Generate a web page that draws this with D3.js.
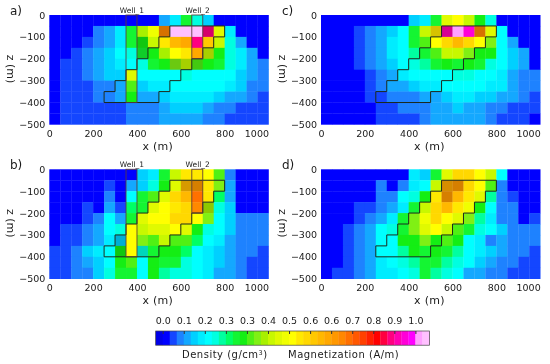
<!DOCTYPE html>
<html>
<head>
<meta charset="utf-8">
<script src="https://cdn.jsdelivr.net/npm/d3@7"></script>
<style>
  html, body { margin: 0; padding: 0; background: #fff; }
  svg { filter: blur(0.4px); }
  text { font-family: "DejaVu Sans", sans-serif; fill: #1a1a1a; }
</style>
</head>
<body>
<svg id="chart" width="550" height="364"></svg>
<script>
// one row per 50 m of depth, one column per 50 m of x
const densityA = [
  [0,0,0,0,0,0,0,0,0,0,.1,.15,.3,.2,.13,0,0,0,0,0],
  [0,0,0,0,.06,.1,.14,.3,.4,.48,.72,1.03,1.03,1.03,.9,.47,.14,0,0,0],
  [0,0,0,.05,.07,.1,.15,.3,.33,.43,.55,.63,.66,.9,.6,.42,.2,.11,0,0],
  [0,0,.04,.06,.09,.12,.18,.2,.3,.33,.4,.5,.55,.65,.42,.33,.2,.16,.1,0],
  [0,.03,.05,.07,.09,.12,.16,.18,.2,.3,.32,.38,.42,.36,.33,.28,.2,.16,.1,.06],
  [0,.03,.05,.07,.09,.12,.13,.45,.18,.18,.19,.19,.21,.19,.18,.18,.17,.13,.09,.07],
  [0,.03,.04,.05,.07,.08,.09,.34,.13,.14,.16,.17,.18,.18,.17,.17,.14,.12,.08,.06],
  [0,.03,.04,.04,.06,.07,.09,.33,.1,.1,.12,.14,.14,.15,.14,.12,.11,.09,.07,.05],
  [0,.03,.03,.03,.04,.05,.05,.06,.07,.08,.1,.12,.12,.12,.1,.08,.06,.05,.04,.04],
  [0,.03,.03,.03,.04,.05,.05,.06,.06,.07,.1,.1,.1,.1,.08,.06,.05,.04,.03,.03]
];
const densityB = [
  [0,0,0,0,0,0,0,0,.12,.15,.3,.42,.55,.55,.5,.36,.08,0,0,0],
  [0,0,0,0,0,.05,0,.09,.13,.22,.32,.47,.62,.68,.55,.38,.1,0,0,0],
  [0,0,0,0,0,.06,0,.18,.3,.36,.45,.57,.62,.74,.53,.27,.1,0,0,0],
  [0,0,0,.04,0,.09,.05,.27,.3,.45,.5,.55,.58,.72,.4,.2,.12,0,0,0],
  [0,0,0,.05,.06,.17,.1,.28,.45,.5,.52,.58,.56,.52,.38,.18,.13,.07,.06,.06],
  [0,.04,.05,.06,.1,.17,.2,.5,.42,.45,.47,.5,.47,.31,.2,.18,.13,.08,.07,.06],
  [0,.04,.05,.06,.1,.16,.13,.5,.38,.35,.42,.35,.36,.25,.17,.16,.11,.08,.07,.06],
  [.04,.05,.08,.12,.15,.18,.33,.5,.22,.3,.33,.31,.27,.17,.15,.13,.1,.08,.06,.05],
  [.04,.05,.07,.09,.12,.18,.32,.34,.18,.31,.3,.28,.2,.17,.14,.12,.09,.07,.05,.04],
  [.03,.05,.06,.08,.13,.2,.3,.3,.17,.31,.23,.22,.2,.17,.14,.11,.09,.06,.05,.04]
];
const densityC = [
  [0,0,0,0,0,0,0,0,.12,.14,.3,.47,.5,.42,.33,.2,0,0,0,0],
  [0,0,0,.05,.07,.09,.13,.17,.3,.42,.55,.93,1.02,.95,.72,.47,.17,0,0,0],
  [0,0,0,.05,.07,.1,.14,.17,.3,.36,.5,.58,.62,.58,.5,.38,.17,.09,0,0],
  [0,0,0,.05,.07,.1,.14,.18,.23,.3,.36,.42,.44,.38,.33,.33,.17,.13,.09,0],
  [0,0,0,.04,.06,.09,.13,.17,.2,.24,.29,.31,.3,.31,.3,.22,.17,.13,.09,0],
  [0,0,0,0,.05,.07,.11,.15,.17,.17,.18,.19,.2,.2,.19,.18,.15,.11,.08,.06],
  [0,0,0,0,.05,.07,.09,.1,.13,.14,.15,.17,.18,.18,.18,.16,.14,.1,.08,.06],
  [0,0,0,0,.04,.05,.06,.07,.08,.09,.11,.13,.14,.14,.13,.12,.11,.09,.07,.05],
  [0,0,0,0,0,.03,.04,.06,.07,.08,.11,.11,.12,.11,.1,.08,.07,.05,.04,.04],
  [0,0,0,0,0,.03,.03,.04,.05,.06,.09,.09,.09,.09,.09,.07,.05,.04,.03,0]
];
const densityD = [
  [0,0,0,0,0,0,0,0,.15,.12,.3,.47,.57,.58,.5,.42,.18,0,0,0],
  [0,0,0,0,0,.06,0,.06,.15,.17,.42,.65,.68,.58,.5,.35,.08,0,0,0],
  [0,0,0,0,0,.07,.07,.17,.2,.33,.55,.68,.62,.55,.45,.23,.08,.05,0,0],
  [0,0,0,.04,.05,.07,.09,.15,.3,.42,.57,.62,.55,.48,.32,.18,.08,.06,0,0],
  [0,0,0,.04,.06,.09,.16,.28,.37,.48,.58,.5,.45,.37,.24,.14,.08,.07,0,.05],
  [0,0,.05,.07,.09,.17,.2,.3,.38,.46,.5,.42,.34,.3,.2,.18,.13,.08,.06,.06],
  [0,0,.05,.06,.1,.18,.19,.32,.32,.37,.33,.36,.32,.18,.15,.08,.09,.08,.06,.06],
  [0,0,.05,.06,.09,.18,.18,.24,.31,.3,.33,.3,.24,.18,.15,.13,.09,.08,.08,.05],
  [0,0,.05,.06,.09,.15,.17,.2,.24,.28,.3,.24,.2,.18,.13,.1,.08,.06,.05,.05],
  [0,.04,.05,.07,.1,.14,.16,.18,.22,.28,.23,.2,.17,.1,.09,.08,.06,.05,.05,.04]
];

// cells that look muddier than the colour bar, [row, col]
const mutedA = [[1,10],[1,14],[2,8],[3,8],[3,14],[4,11],[4,12],[4,13]];
const mutedB = [[1,12],[1,13],[3,14],[6,6],[7,6],[7,8]];
const mutedC = [[1,10],[1,11],[1,14]];
const mutedD = [[1,11],[1,12],[2,11]];

// outline of the source body, in metres
const bodyX = [550,800,800,750,750,700,700,650,650,600,600,550,550,500,500,250,250,300,300,350,350,400,400,450,450,500,500,550,550];
const bodyZ = [-50,-50,-100,-100,-150,-150,-200,-200,-250,-250,-300,-300,-350,-350,-400,-400,-350,-350,-300,-300,-250,-250,-200,-200,-150,-150,-100,-100,-50];

const wellNames = ["Well_1", "Well_2"];
const wellLeft = [350, 650];
const wellRight = [400, 700];
const wellBottom = [-400, -200];

const xTicks = [0, 200, 400, 600, 800, 1000];
const zTicks = [0, -100, -200, -300, -400, -500];

const barTicks = [0, 1/12, 2/12, 3/12, 4/12, 5/12, 6/12, 7/12, 8/12, 9/12, 10/12, 11/12, 1];
const barLabels = ["0.0","0.1","0.2","0.3","0.3","0.4","0.5","0.6","0.6","0.7","0.8","0.9","1.0"];
const swatches = ["#0000e8","#0000ff","#1446ff","#1e82ff","#14a8ff","#00d0ff","#00ecff","#00ffff",
  "#00ffe0","#00ffa0","#00ff64","#14f532","#14ee14","#50f014","#80f014","#a8f000",
  "#c8f800","#e0fa00","#f0ff00","#ffff00","#ffe800","#ffd800","#ffc800","#ffb800",
  "#ffa800","#ff9800","#ff8800","#ff7000","#ff5800","#ff4000","#ff2000","#ff0000",
  "#ff0040","#ff0080","#ff00b0","#ff00d8","#ff00ff","#ffa0ff","#ffc0ff"];

const color = d3.scaleQuantize().domain([-1/36, 38/36]).range(swatches);

const svg = d3.select("#chart");

const panels = [
  {name: "a)", data: densityA, muted: mutedA, left: 49.3, top: 15, labelX: 10, yLabelX: 7, wells: true},
  {name: "c)", data: densityC, muted: mutedC, left: 321, top: 15, labelX: 282, yLabelX: 279, wells: false},
  {name: "b)", data: densityB, muted: mutedB, left: 49.3, top: 169.3, labelX: 10, yLabelX: 7, wells: true},
  {name: "d)", data: densityD, muted: mutedD, left: 321, top: 169.3, labelX: 282, yLabelX: 279, wells: false}
];

panels.forEach(function(p) {
  const x = d3.scaleLinear().domain([0, 1000]).range([p.left, p.left + 219.2]);
  const z = d3.scaleLinear().domain([0, -500]).range([p.top, p.top + 109.4]);
  const g = svg.append("g");

  const cells = [];
  p.data.forEach((row, j) => row.forEach((v, i) => cells.push({col: i, row: j, v: v})));

  g.selectAll("rect.cell")
    .data(cells)
    .enter().append("rect")
    .attr("class", "cell")
    .attr("x", d => x(d.col * 50))
    .attr("y", d => z(-d.row * 50))
    .attr("width", x(50) - x(0) + 0.3)
    .attr("height", z(-50) - z(0) + 0.3)
    .attr("fill", d => color(d.v));

  g.selectAll("rect.muted")
    .data(p.muted)
    .enter().append("rect")
    .attr("class", "muted")
    .attr("x", d => x(d[1] * 50))
    .attr("y", d => z(-d[0] * 50))
    .attr("width", x(50) - x(0))
    .attr("height", z(-50) - z(0))
    .attr("fill", "#000")
    .attr("fill-opacity", 0.16);

  const line = d3.line().x(d => x(d[0])).y(d => z(d[1]));
  g.append("path")
    .attr("d", line(bodyX.map((v, i) => [v, bodyZ[i]])))
    .attr("fill", "none")
    .attr("stroke", "#1c2a1c")
    .attr("stroke-width", 1);

  if (p.wells) {
    wellNames.forEach(function(name, i) {
      g.append("rect")
        .attr("x", x(wellLeft[i]))
        .attr("y", z(0))
        .attr("width", x(wellRight[i]) - x(wellLeft[i]))
        .attr("height", z(wellBottom[i]) - z(0))
        .attr("fill", "none")
        .attr("stroke", "#5a3a3a")
        .attr("stroke-opacity", 0.85)
        .attr("stroke-width", 1);
      g.append("text")
        .attr("x", x((wellLeft[i] + wellRight[i]) / 2) + 0.5)
        .attr("y", p.top - 2.5)
        .attr("text-anchor", "middle")
        .attr("font-size", 7.5)
        .text(name);
    });
  }

  const xAxis = g.append("g")
    .attr("transform", `translate(0,${p.top + 109.4})`)
    .call(d3.axisBottom(x).tickValues(xTicks).tickSize(0).tickPadding(5.5).tickFormat(d3.format("d")));
  xAxis.select(".domain").remove();
  xAxis.selectAll("text")
    .attr("font-size", 9.5)
    .attr("text-anchor", d => d === 1000 ? "end" : "middle");

  const zAxis = g.append("g")
    .attr("transform", `translate(${p.left - 1},0)`)
    .call(d3.axisLeft(z).tickValues(zTicks).tickSize(0).tickPadding(3));
  zAxis.select(".domain").remove();
  zAxis.selectAll("text").attr("font-size", 9.5);
  g.selectAll(".tick text").style("font-family", "DejaVu Sans");

  g.append("text")
    .attr("x", p.left + 108.5)
    .attr("y", p.top + 134.7)
    .attr("text-anchor", "middle")
    .attr("font-size", 11)
    .attr("letter-spacing", 0.3)
    .text("x (m)");

  g.append("text")
    .attr("transform", `translate(${p.yLabelX},${p.top + 54}) rotate(90)`)
    .attr("text-anchor", "middle")
    .attr("font-size", 11)
    .text("z (m)");

  g.append("text")
    .attr("x", p.labelX)
    .attr("y", p.top)
    .attr("font-size", 12)
    .text(p.name);
});

// colour bar
const barX = d3.scaleLinear().domain([0, 1]).range([162.7, 415.4]);
const barTop = 331, barH = 14.2;
const bar = svg.append("g");
bar.selectAll("rect")
  .data(swatches)
  .enter().append("rect")
  .attr("x", (d, i) => barX((i - 1) / 36))
  .attr("y", barTop)
  .attr("width", barX(1/36) - barX(0) + 0.3)
  .attr("height", barH)
  .attr("fill", d => d);
bar.append("rect")
  .attr("x", barX(-1/36))
  .attr("y", barTop)
  .attr("width", barX(38/36) - barX(-1/36))
  .attr("height", barH)
  .attr("fill", "none")
  .attr("stroke", "#444")
  .attr("stroke-width", 0.7);

const barAxis = bar.append("g")
  .attr("transform", `translate(0,${barTop + 3})`)
  .call(d3.axisTop(barX).tickValues(barTicks).tickSize(3).tickPadding(7)
    .tickFormat((d, i) => barLabels[i]));
barAxis.select(".domain").remove();
barAxis.selectAll("line").attr("stroke", "#333");
barAxis.selectAll("text").attr("font-size", 9.5).style("font-family", "DejaVu Sans");

const densityLabel = svg.append("text")
  .attr("x", 182)
  .attr("y", 357.5)
  .attr("font-size", 10)
  .attr("letter-spacing", 0.5);
densityLabel.append("tspan").text("Density (g/cm");
densityLabel.append("tspan").attr("dy", -3).attr("font-size", 6.5).text("3");
densityLabel.append("tspan").attr("dy", 3).text(")");

svg.append("text")
  .attr("x", 288)
  .attr("y", 357.5)
  .attr("font-size", 10)
  .attr("letter-spacing", 0.5)
  .text("Magnetization (A/m)");
</script>
</body>
</html>
